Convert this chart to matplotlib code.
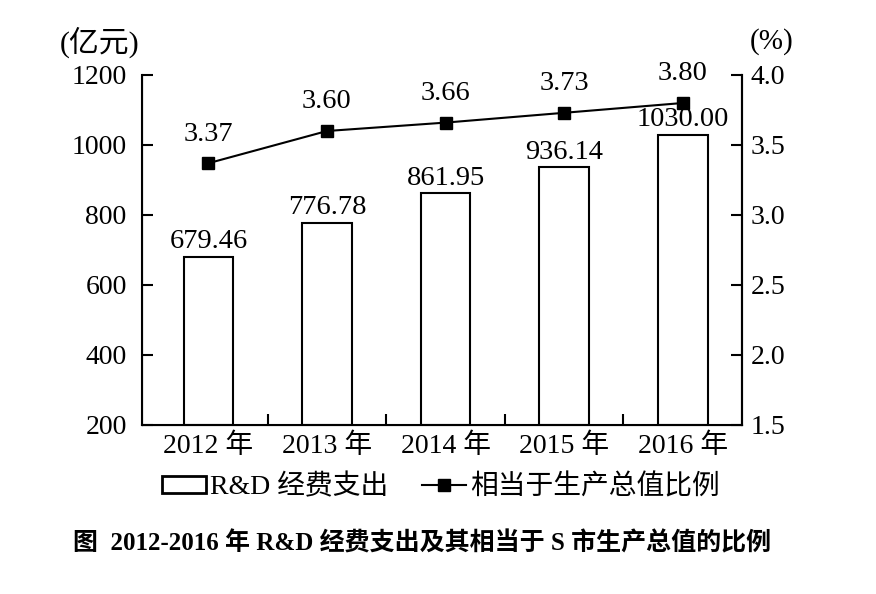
import matplotlib
matplotlib.use("Agg")
import matplotlib.pyplot as plt
from matplotlib.patches import Rectangle
from matplotlib.lines import Line2D
import numpy as np

plt.rcParams['font.family'] = ['Liberation Serif', 'Noto Sans CJK SC']

years = ["2012 年", "2013 年", "2014 年", "2015 年", "2016 年"]
rd_spend = [679.46, 776.78, 861.95, 936.14, 1030.00]
ratio = [3.37, 3.60, 3.66, 3.73, 3.80]
left_ticks = [200, 400, 600, 800, 1000, 1200]
right_ticks = [1.5, 2.0, 2.5, 3.0, 3.5, 4.0]

FS = 20
fig = plt.figure(figsize=(8.76, 5.94), dpi=100)
ax = fig.add_axes([142/876, 1 - 425/594, 600/876, 350/594])
x = np.arange(len(years))

ax.bar(x, [v - 200 for v in rd_spend], bottom=200, width=0.42, color='white',
       edgecolor='black', linewidth=1.5, zorder=2)
for xi, v in zip(x, rd_spend):
    ax.annotate(f"{v:.2f}", (xi, v), xytext=(0, 2), textcoords='offset points',
                ha='center', va='bottom', fontsize=20.5)

ax.set_xlim(-0.56, 4.5)
ax.set_ylim(200, 1200)
ax.set_yticks(left_ticks)
ax.set_yticklabels([str(t) for t in left_ticks], fontsize=FS)
ax.set_xticks(x)
ax.set_xticklabels(years, fontsize=FS)
ax.tick_params(axis='x', which='major', length=0, pad=6)
ax.set_xticks(x[:-1] + 0.5, minor=True)
ax.tick_params(axis='x', which='minor', direction='in', length=8, width=1.5)
ax.tick_params(axis='y', direction='in', length=8, width=1.5, pad=11)
ax.spines['top'].set_visible(False)
for s in ['left', 'bottom', 'right']:
    ax.spines[s].set_linewidth(1.5)

ax2 = ax.twinx()
ax2.set_ylim(1.5, 4.0)
ax2.set_yticks(right_ticks)
ax2.set_yticklabels([f"{t:.1f}" for t in right_ticks], fontsize=FS)
ax2.tick_params(axis='y', direction='in', length=8, width=1.5, pad=6)
ax2.spines['top'].set_visible(False)
ax2.spines['right'].set_linewidth(1.5)
ax2.plot(x, ratio, color='black', linewidth=1.5, marker='s', markersize=9, zorder=3)
for xi, v in zip(x, ratio):
    ax2.annotate(f"{v:.2f}", (xi, v), xytext=(0, 12), textcoords='offset points',
                 ha='center', va='bottom', fontsize=20.5)

fig.text(100/876, 1 - 42/594, "(亿元)", ha='center', va='center', fontsize=21.5)
fig.text(772/876, 1 - 42/594, "(%)", ha='center', va='center', fontsize=21)

handles = [Rectangle((0, 0), 1, 1, facecolor='white', edgecolor='black', linewidth=2),
           Line2D([0], [0], color='black', linewidth=1.5, marker='s', markersize=9)]
fig.legend(handles, ["R&D 经费支出", "相当于生产总值比例"], loc='center',
           bbox_to_anchor=(441/876, 1 - 487/594), ncol=2, frameon=False,
           fontsize=FS, handlelength=1.6, handleheight=0.6, handletextpad=0.15,
           columnspacing=1.2)

fig.text(422/876, 1 - 543/594, "图  2012-2016 年 R&D 经费支出及其相当于 S 市生产总值的比例",
         ha='center', va='center', fontsize=18, fontweight='bold')

fig.savefig("out.png", dpi=100)
